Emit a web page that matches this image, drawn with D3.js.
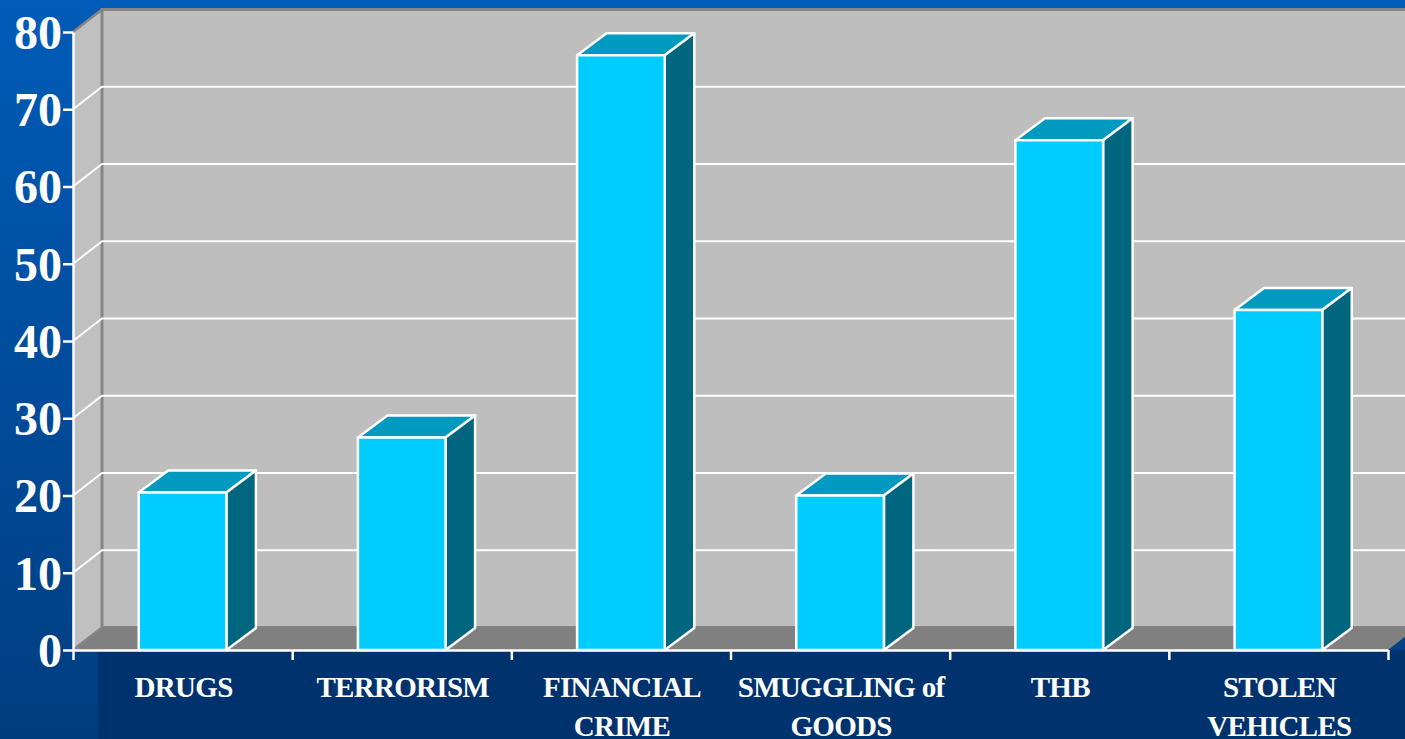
<!DOCTYPE html>
<html>
<head>
<meta charset="utf-8">
<script src="https://cdn.jsdelivr.net/npm/d3@7"></script>
<style>
html, body { margin: 0; padding: 0; overflow: hidden; background: #003070; }
svg { display: block; }
text { font-family: "Liberation Serif", serif; font-weight: bold; fill: #fff; }
</style>
</head>
<body>
<script>
// Dades llegides del gràfic
const categories = ['DRUGS', 'TERRORISM', 'FINANCIAL CRIME', 'SMUGGLING of GOODS', 'THB', 'STOLEN VEHICLES'];
const labelLines = [['DRUGS'], ['TERRORISM'], ['FINANCIAL', 'CRIME'], ['SMUGGLING of', 'GOODS'], ['THB'], ['STOLEN', 'VEHICLES']];
const values = [20.4, 27.5, 77, 20, 66, 44];
const yTicks = [0, 10, 20, 30, 40, 50, 60, 70, 80];

const W = 1405, H = 739;
const left = 73, right = 1388, base = 650, top80 = 32;
const depthX = 29, depthY = 22.5;

const svg = d3.select('body').append('svg').attr('width', W).attr('height', H);

// Fons amb degradat
const grad = svg.append('defs').append('linearGradient')
    .attr('id', 'bg').attr('x1', 0).attr('y1', 0).attr('x2', 0).attr('y2', 1);
grad.append('stop').attr('offset', '0%').attr('stop-color', '#005cb8');
grad.append('stop').attr('offset', '100%').attr('stop-color', '#003d80');
svg.append('rect').attr('width', W).attr('height', H).attr('fill', 'url(#bg)');
svg.append('rect').attr('x', 98).attr('y', 650).attr('width', W - 98).attr('height', H - 650).attr('fill', '#00326e');

const y = d3.scaleLinear().domain([0, 80]).range([base, top80]);
const x = d3.scaleBand().domain(categories).range([left, right]).padding(0.6).paddingOuter(0.3);
const edge = d3.scaleLinear().domain([0, categories.length]).range([left, right]);

const poly = pts => pts.map(p => p.join(',')).join(' ');

// Parets i terra
svg.append('polygon')
    .attr('points', poly([[left, top80], [left + depthX, top80 - depthY], [left + depthX, base - depthY], [left, base]]))
    .attr('fill', '#c0c0c0');
svg.append('rect')
    .attr('x', left + depthX).attr('y', top80 - depthY)
    .attr('width', right - left + 10).attr('height', base - top80)
    .attr('fill', '#bebebe').attr('stroke', '#858585').attr('stroke-width', 3);
svg.append('polygon')
    .attr('points', poly([[left, base], [left + depthX, base - depthY], [right + depthX, base - depthY], [right, base]]))
    .attr('fill', '#808080');
svg.append('path')
    .attr('d', `M${left},${top80}L${left + depthX},${top80 - depthY}M${left},${base}L${left + depthX},${base - depthY}`)
    .attr('stroke', '#858585').attr('stroke-width', 2.5).attr('fill', 'none');

// Línies de graella
svg.append('g').selectAll('path')
    .data(yTicks.filter(d => d > 0 && d < 80))
    .enter().append('path')
    .attr('d', d => `M${left},${y(d)}L${left + depthX},${y(d) - depthY}L${W},${y(d) - depthY}`)
    .attr('fill', 'none').attr('stroke', '#fff').attr('stroke-width', 2);

// Barres en 3D
const bars = svg.append('g').selectAll('g')
    .data(categories.map((c, i) => ({ c, v: values[i] })))
    .enter().append('g')
    .attr('stroke', '#fff').attr('stroke-width', 2.5).attr('stroke-linejoin', 'round');
const dx = 29.5, dy = 22;
bars.append('polygon')
    .attr('points', d => {
        const a = x(d.c), b = a + x.bandwidth(), t = y(d.v);
        return poly([[a, t], [a + dx, t - dy], [b + dx, t - dy], [b, t]]);
    })
    .attr('fill', '#0099bf');
bars.append('polygon')
    .attr('points', d => {
        const b = x(d.c) + x.bandwidth(), t = y(d.v);
        return poly([[b, t], [b + dx, t - dy], [b + dx, base - dy], [b, base]]);
    })
    .attr('fill', '#006680');
bars.append('rect')
    .attr('x', d => x(d.c)).attr('y', d => y(d.v))
    .attr('width', x.bandwidth()).attr('height', d => base - y(d.v))
    .attr('fill', '#00ccff');

// Eixos
const axisY = svg.append('g').attr('transform', `translate(${left},0)`)
    .call(d3.axisLeft(y).tickValues(yTicks).tickSize(10).tickPadding(1).tickSizeOuter(0));
axisY.selectAll('text').style('font-size', '48px').attr('dy', '0.34em');
const axisX = svg.append('g').attr('transform', `translate(0,${base})`)
    .call(d3.axisBottom(edge).tickValues(d3.range(categories.length + 1)).tickSize(10).tickSizeOuter(0).tickFormat(''));
svg.selectAll('.domain, .tick line').attr('stroke', '#fff').attr('stroke-width', 2.5);
axisY.selectAll('text').attr('fill', '#fff');

// Etiquetes de categoria
const labels = svg.append('g').selectAll('text')
    .data(categories)
    .enter().append('text')
    .attr('text-anchor', 'middle')
    .style('font-size', '29px')
    .style('letter-spacing', '-0.7px');
labels.selectAll('tspan')
    .data((d, i) => labelLines[i].map((t, j) => ({ t, j, c: d })))
    .enter().append('tspan')
    .attr('x', d => x(d.c) + x.bandwidth() / 2 + 1)
    .attr('y', d => 697 + d.j * 38.5)
    .text(d => d.t);
</script>
</body>
</html>
